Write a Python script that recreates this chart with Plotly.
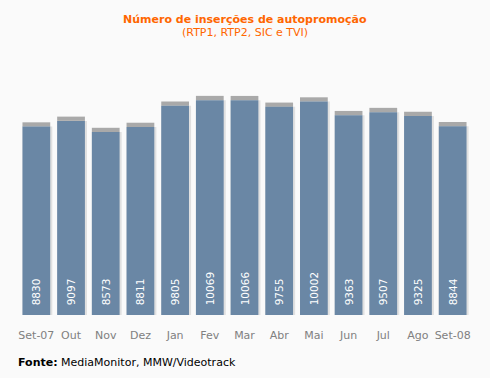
import plotly.graph_objects as go

months = ["Set-07", "Out", "Nov", "Dez", "Jan", "Fev", "Mar", "Abr", "Mai", "Jun", "Jul", "Ago", "Set-08"]
values = [8830, 9097, 8573, 8811, 9805, 10069, 10066, 9755, 10002, 9363, 9507, 9325, 8844]

cap = 200  # visual height of grey top cap (style)
NB = "\u00a0"

fig = go.Figure()
# light shadow to the right
fig.add_trace(go.Bar(x=months, y=values, marker=dict(color="#e0e0e0", line=dict(width=0)),
                     width=0.86, offset=-0.4, hoverinfo="skip", showlegend=False))
fig.add_trace(go.Bar(x=months, y=[cap] * len(values), base=values,
                     marker=dict(color="#a9a9a9", line=dict(width=0)),
                     width=0.8, offset=-0.4, hoverinfo="skip", showlegend=False))
fig.add_trace(go.Bar(x=months, y=values, marker=dict(color="#6a87a5", line=dict(width=0)),
                     width=0.8, offset=-0.4,
                     text=[NB * 2 + str(v) for v in values], textposition="inside",
                     insidetextanchor="start", textangle=-90,
                     textfont=dict(color="white", size=10.5, family="DejaVu Sans"),
                     showlegend=False))

fig.update_layout(
    width=490, height=378,
    barmode="overlay",
    paper_bgcolor="#fafafa", plot_bgcolor="#fafafa",
    margin=dict(l=19, r=20, t=60, b=63),
    xaxis=dict(range=[-0.5, 12.5], showgrid=False, zeroline=False, showline=False,
               tickfont=dict(color="#808080", size=11, family="DejaVu Sans"), ticks="",
               ticklabelstandoff=12),
    yaxis=dict(range=[0, 11950], visible=False),
)
H = 378 - 60 - 63
W = 490 - 19 - 20
def py(p): return (378 - 63 - p) / H
def px(p): return (p - 19) / W
fig.add_annotation(text="<b>Número de inserções de autopromoção</b>", x=px(245), y=py(20), xref="paper", yref="paper",
                   showarrow=False, font=dict(color="#ff6600", size=11, family="DejaVu Sans"), yanchor="middle", xanchor="center")
fig.add_annotation(text="(RTP1, RTP2, SIC e TVI)", x=px(245), y=py(33), xref="paper", yref="paper",
                   showarrow=False, font=dict(color="#ff6600", size=11, family="DejaVu Sans"), yanchor="middle", xanchor="center")
fig.add_annotation(text="<b>Fonte:</b> MediaMonitor, MMW/Videotrack", x=px(16), y=py(362), xref="paper", yref="paper",
                   showarrow=False, font=dict(color="#000000", size=11, family="DejaVu Sans"), yanchor="middle", xanchor="left")

fig.write_html("out.html", config={"displayModeBar": False},
               post_script="document.body.style.margin='0';document.body.style.background='#fafafa';")
